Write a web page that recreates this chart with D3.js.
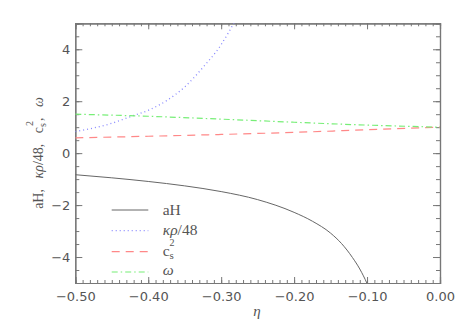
<!DOCTYPE html>
<html>
<head>
<meta charset="utf-8">
<script src="https://cdn.jsdelivr.net/npm/d3@7"></script>
<style>
  body { margin: 0; background: #fff; }
  svg text { fill: #555; }
</style>
</head>
<body>
<div id="chart"></div>
<script>
// values
const etaAH = [-0.50, -0.45, -0.40, -0.35, -0.30, -0.25, -0.20, -0.175, -0.15, -0.135, -0.12, -0.11, -0.10, -0.095];
const aH    = [-0.83, -0.95, -1.09, -1.26, -1.48, -1.79, -2.28, -2.62, -3.08, -3.48, -4.02, -4.46, -5.02, -5.35];

const etaRho = [-0.50, -0.475, -0.45, -0.425, -0.40, -0.375, -0.35, -0.325, -0.30, -0.28];
const rho48  = [0.83, 0.97, 1.15, 1.40, 1.65, 2.02, 2.55, 3.30, 4.18, 5.15];

const etaCs = [-0.50, -0.40, -0.30, -0.20, -0.10, 0.00];
const cs2   = [0.59, 0.65, 0.72, 0.80, 0.90, 1.00];
const omega = [1.50, 1.42, 1.31, 1.19, 1.08, 1.00];

const xTicks = [-0.5, -0.4, -0.3, -0.2, -0.1, 0.0];
const yTicks = [-4, -2, 0, 2, 4];

const margin = {top: 23.3, right: 23, bottom: 48, left: 75.3};
const W = 463, H = 331;
const width = W - margin.left - margin.right;
const height = H - margin.top - margin.bottom;

const svg = d3.select('#chart').append('svg')
    .attr('width', W)
    .attr('height', H);

const g = svg.append('g')
    .attr('transform', `translate(${margin.left},${margin.top})`);

const x = d3.scaleLinear().domain([-0.5, 0]).range([0, width]);
const y = d3.scaleLinear().domain([-5, 5]).range([height, 0]);

const axisColor = '#777';
const fmtX = d => d3.format('.2f')(d).replace('-', '\u2212');
const fmtY = d => String(d).replace('-', '\u2212');

// minor and major ticks on all four sides
const xMinor = d3.range(-50, 1).map(i => i / 100);
const yMinor = d3.range(-10, 11).map(i => i / 2);

function addAxis(axis, tx, ty) {
    const a = g.append('g')
        .attr('transform', `translate(${tx},${ty})`)
        .call(axis);
    a.selectAll('path, line').attr('stroke', axisColor);
    a.select('.domain').attr('stroke-width', 1.2);
    return a;
}

addAxis(d3.axisBottom(x).tickValues(xMinor).tickSize(-3).tickFormat(''), 0, height);
addAxis(d3.axisTop(x).tickValues(xMinor).tickSize(-3).tickFormat(''), 0, 0);
addAxis(d3.axisLeft(y).tickValues(yMinor).tickSize(-4).tickFormat(''), 0, 0);
addAxis(d3.axisRight(y).tickValues(yMinor).tickSize(-4).tickFormat(''), width, 0);

addAxis(d3.axisBottom(x).tickValues(xTicks).tickSize(-6).tickPadding(9).tickFormat(fmtX), 0, height);
addAxis(d3.axisTop(x).tickValues(xTicks).tickSize(-6).tickFormat(''), 0, 0);
addAxis(d3.axisLeft(y).tickValues(yTicks).tickSize(-7).tickPadding(5).tickFormat(fmtY), 0, 0);
addAxis(d3.axisRight(y).tickValues(yTicks).tickSize(-7).tickFormat(''), width, 0);

g.selectAll('.tick text')
    .attr('font-family', '"DejaVu Sans", sans-serif')
    .attr('font-size', 13)
    .attr('fill', '#666');

// curves
g.append('clipPath').attr('id', 'clip')
  .append('rect').attr('width', width).attr('height', height);

const line = d3.line().x(d => x(d[0])).y(d => y(d[1])).curve(d3.curveMonotoneX);
const plot = g.append('g').attr('clip-path', 'url(#clip)');

const series = [
    {xs: etaAH, ys: aH, color: '#666', dash: null, width: 1},
    {xs: etaRho, ys: rho48, color: '#8888ff', dash: '1,3', width: 1.3},
    {xs: etaCs, ys: cs2, color: '#ff8888', dash: '8,6', width: 1.2},
    {xs: etaCs, ys: omega, color: '#77ee77', dash: '6,3,1.5,3', width: 1.2}
];

series.forEach(s => {
    plot.append('path')
        .datum(s.xs.map((v, i) => [v, s.ys[i]]))
        .attr('fill', 'none')
        .attr('stroke', s.color)
        .attr('stroke-width', s.width)
        .attr('stroke-dasharray', s.dash)
        .attr('d', line);
});

// legend
const legY = [210, 230.7, 251.7, 272];
const leg = svg.append('g');
series.forEach((s, i) => {
    leg.append('line')
        .attr('x1', 111.7).attr('x2', 148.3)
        .attr('y1', legY[i]).attr('y2', legY[i])
        .attr('stroke', s.color)
        .attr('stroke-width', s.width)
        .attr('stroke-dasharray', s.dash);
});

const serif = '"Liberation Serif", "DejaVu Serif", serif';
const legText = leg.append('g')
    .attr('font-family', serif)
    .attr('font-size', 15.5);

legText.append('text').attr('x', 162.7).attr('y', legY[0] + 5).text('aH');
legText.append('text').attr('x', 162.7).attr('y', legY[1] + 4)
    .html('<tspan font-style="italic">κρ</tspan>/48');
const cs = legText.append('text').attr('x', 162.7).attr('y', legY[2] + 4);
cs.append('tspan').text('c');
cs.append('tspan').attr('font-size', 11).attr('dy', 3).text('s');
legText.append('text').attr('x', 169.5).attr('y', legY[2] - 6)
    .attr('font-size', 10).text('2');
legText.append('text').attr('x', 162.7).attr('y', legY[3] + 3)
    .attr('font-style', 'italic').text('ω');

// axis titles
svg.append('text')
    .attr('x', 257).attr('y', 316)
    .attr('text-anchor', 'middle')
    .attr('font-family', serif)
    .attr('font-style', 'italic')
    .attr('font-size', 15)
    .text('η');

const yt = svg.append('text')
    .attr('transform', 'translate(43,153) rotate(-90)')
    .attr('text-anchor', 'middle')
    .attr('font-family', serif)
    .attr('font-size', 14)
    .style('white-space', 'pre');
yt.append('tspan').text('aH,   ');
yt.append('tspan').attr('font-style', 'italic').text('κρ');
yt.append('tspan').text('/48,   c');
yt.append('tspan').attr('font-size', 10).attr('dy', 3).text('s');
yt.append('tspan').attr('font-size', 10).attr('dx', -3).attr('dy', -13).text('2');
yt.append('tspan').attr('dy', 10).text(',   ');
yt.append('tspan').attr('font-style', 'italic').text('ω');
</script>
</body>
</html>
